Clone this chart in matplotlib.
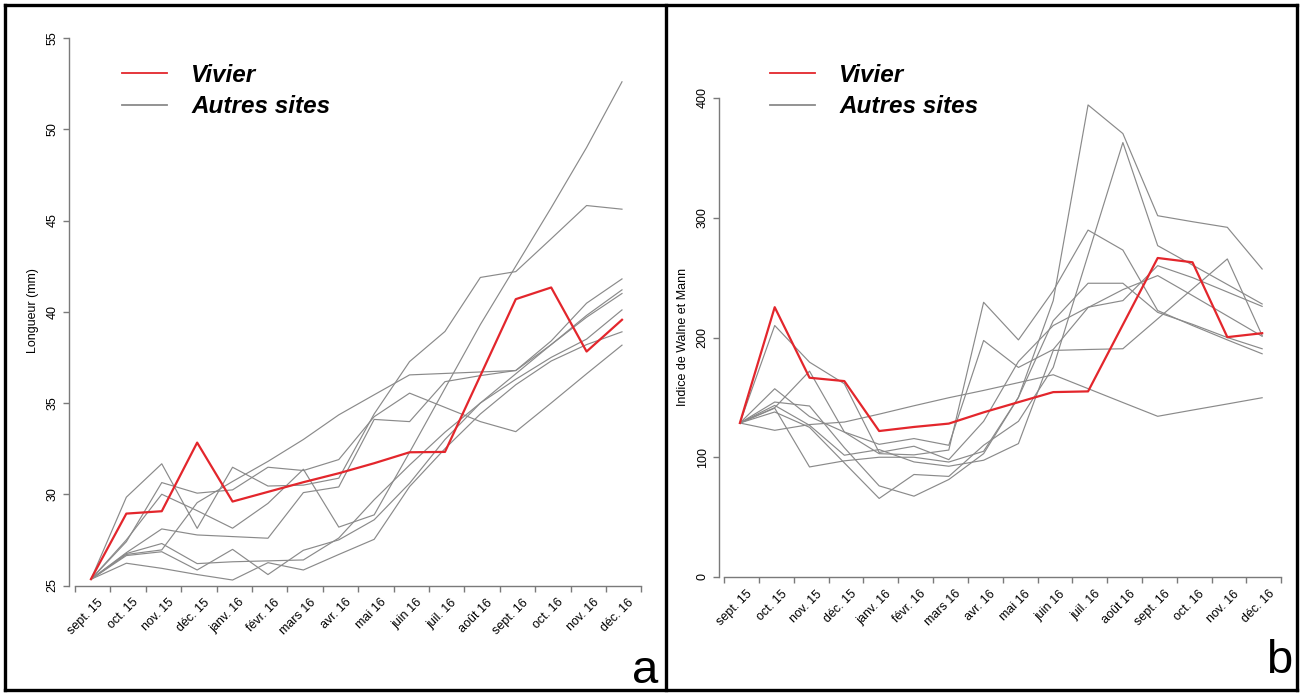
import matplotlib
matplotlib.use("Agg")
import matplotlib.pyplot as plt
from matplotlib.lines import Line2D
from matplotlib.transforms import ScaledTranslation, blended_transform_factory


# ============================================================
# DATA
# ============================================================

mois = [
    "sept. 15", "oct. 15", "nov. 15", "déc. 15", "janv. 16", "févr. 16",
    "mars 16", "avr. 16", "mai 16", "juin 16", "juil. 16", "août 16",
    "sept. 16", "oct. 16", "nov. 16", "déc. 16",
]

# panel a : longueur (mm)
vivier_longueur = [25.35, 28.94, 29.07, 32.83, 29.6, 30.13, 30.66, 31.15,
                   31.7, 32.3, 32.32, 36.5, 40.69, 41.33, 37.82, 39.56]

autres_longueur = [
    [25.34, 29.84, 31.67, 28.13, 31.48, 30.45, 30.5, 30.88, 34.4, 37.27, 38.92, 41.88, 42.2, 44.0, 45.82, 45.62],
    [25.34, 27.4, 30.64, 30.06, 30.24, 31.48, 31.3, 31.9, 34.25, 35.54, 34.76, 33.98, 33.43, 35.0, 36.6, 38.17],
    [25.34, 27.5, 30.0, 29.1, 28.14, 29.5, 31.37, 28.2, 28.87, 32.3, 35.8, 39.3, 42.5, 45.7, 49.0, 52.6],
    [25.34, 26.8, 28.1, 27.77, 27.68, 27.59, 30.09, 30.4, 34.1, 33.98, 36.17, 36.5, 36.78, 38.2, 39.7, 41.0],
    [25.34, 26.7, 26.95, 29.54, 30.7, 31.8, 33.0, 34.35, 35.45, 36.54, 36.62, 36.7, 36.78, 38.4, 40.47, 41.8],
    [25.34, 26.64, 26.85, 25.85, 26.98, 25.6, 26.93, 27.5, 28.6, 30.6, 33.0, 35.0, 36.6, 38.2, 39.8, 41.2],
    [25.34, 26.75, 27.3, 26.2, 26.3, 26.35, 26.4, 27.6, 29.7, 31.6, 33.4, 35.0, 36.3, 37.5, 38.5, 40.1],
    [25.34, 26.22, 25.94, 25.6, 25.3, 26.25, 25.85, 26.7, 27.53, 30.42, 32.5, 34.4, 36.0, 37.3, 38.2, 38.9],
]

# panel b : indice de Walne et Mann
vivier_wm = [128.6, 225.3, 166.4, 163.6, 121.9, 125.3, 128.1, 137.5,
             146.0, 154.4, 155.0, 210.7, 266.4, 262.8, 200.3, 203.6]

autres_wm = [
    [128.6, 146.1, 142.8, 108.0, 76.1, 67.5, 81.4, 103.0, 150.0, 230.8, 394.2, 370.3, 301.7, 296.7, 292.0, 257.2],
    [128.6, 137.8, 125.0, 95.3, 65.6, 85.6, 84.0, 110.0, 130.0, 175.0, 269.0, 362.8, 276.7, 260.5, 244.3, 228.0],
    [128.6, 210.0, 179.4, 161.4, 104.0, 109.2, 98.0, 130.0, 180.0, 210.0, 225.3, 230.8, 260.0, 250.0, 238.0, 226.0],
    [128.6, 141.4, 171.9, 121.1, 110.8, 115.6, 110.0, 197.5, 175.0, 190.0, 225.0, 240.0, 251.7, 235.0, 218.0, 201.0],
    [128.6, 143.3, 126.7, 101.7, 106.4, 96.1, 92.5, 97.5, 111.4, 189.2, 190.0, 190.6, 215.6, 240.6, 265.6, 201.7],
    [128.6, 157.2, 134.0, 121.0, 103.0, 102.0, 106.0, 229.4, 198.0, 239.0, 289.7, 273.0, 222.5, 210.0, 198.0, 186.4],
    [128.6, 141.0, 91.9, 97.0, 100.0, 100.0, 96.0, 105.0, 150.0, 214.0, 245.3, 245.3, 221.0, 211.0, 200.0, 190.6],
    [128.6, 122.5, 127.3, 129.4, 136.0, 143.0, 149.7, 155.8, 162.3, 168.9, 157.3, 145.7, 134.2, 139.4, 144.5, 149.7],
]


# ============================================================
# STYLE
# ============================================================

W, H, DPI = 1301, 693, 100

plt.rcParams["font.family"] = ["Liberation Sans", "DejaVu Sans"]

ROUGE = "#e3262c"
GRIS = "#8a8a8a"
AXE = "#7a7a7a"


def box(x0, y0, x1, y1):
    # pixel box (top-left origin) -> figure fraction
    return [x0 / W, 1 - y1 / H, (x1 - x0) / W, (y1 - y0) / H]


fig = plt.figure(figsize=(W / DPI, H / DPI), dpi=DPI)


def panel(rect, xlim, ylim, yticks, vivier, autres, ylabel, ylab_xy, leg_xy):

    ax = fig.add_axes(rect)
    x = list(range(len(mois)))

    for serie in autres:
        ax.plot(x, serie, color=GRIS, lw=0.85)
    ax.plot(x, vivier, color=ROUGE, lw=1.6)

    ax.set_xlim(*xlim)
    ax.set_ylim(*ylim)

    for s in ["top", "right"]:
        ax.spines[s].set_visible(False)
    for s in ["left", "bottom"]:
        ax.spines[s].set_color(AXE)
        ax.spines[s].set_linewidth(1.0)
    ax.spines["left"].set_bounds(yticks[0], yticks[-1])
    ax.spines["bottom"].set_bounds(-0.45, len(mois) - 0.45)

    ax.set_xticks([k - 0.45 for k in range(len(mois) + 1)])
    ax.set_xticklabels([])
    ax.set_yticks(yticks)
    ax.set_yticklabels([str(v) for v in yticks], rotation=90,
                       va="center", fontsize=9)
    ax.tick_params(axis="both", direction="out", length=4.5,
                   width=1.0, color=AXE, pad=3)

    # month labels, rotated like R's text(srt = 45)
    tr = blended_transform_factory(ax.transData, ax.transAxes)
    off = ScaledTranslation(6 / DPI, -11 / DPI, fig.dpi_scale_trans)
    for i, lab in enumerate(mois):
        ax.text(i, 0, lab, transform=tr + off, rotation=45,
                rotation_mode="anchor", ha="right", va="top", fontsize=9)

    fig.text(ylab_xy[0] / W, 1 - ylab_xy[1] / H, ylabel, rotation=90,
             ha="center", va="center", fontsize=9)

    handles = [Line2D([], [], color=ROUGE, lw=1.3),
               Line2D([], [], color=GRIS, lw=1.3)]
    fig.legend(handles, ["Vivier", "Autres sites"], frameon=False,
               loc="upper left",
               bbox_to_anchor=(leg_xy[0] / W, 1 - leg_xy[1] / H),
               borderaxespad=0, borderpad=0, handlelength=1.85,
               handletextpad=1.0, labelspacing=0.33,
               prop={"family": "Liberation Sans", "weight": "bold",
                     "style": "italic", "size": 17.5})
    return ax


# ============================================================
# PANEL A
# ============================================================

panel(box(69, 38, 645, 585.5), (-0.62, 15.65), (25, 55),
      [25, 30, 35, 40, 45, 50, 55], vivier_longueur, autres_longueur,
      "Longueur (mm)", (33, 311), (122, 64))

# ============================================================
# PANEL B
# ============================================================

panel(box(719, 98, 1290, 577), (-0.60, 15.80), (0, 400),
      [0, 100, 200, 300, 400], vivier_wm, autres_wm,
      "Indice de Walne et Mann", (683, 337), (770, 64))


# ============================================================
# FRAME AND PANEL LETTERS
# ============================================================

cadre = [((5, 5), (1297, 5)), ((5, 690), (1297, 690)),
         ((5, 5), (5, 690)), ((1297, 5), (1297, 690)),
         ((666, 5), (666, 690))]
for (xa, ya), (xb, yb) in cadre:
    fig.add_artist(Line2D([xa / W, xb / W], [1 - ya / H, 1 - yb / H],
                          transform=fig.transFigure, color="black", lw=2.4))

fig.text(658 / W, 1 - 683 / H, "a", fontsize=34, ha="right", va="baseline")
fig.text(1292 / W, 1 - 673 / H, "b", fontsize=34, ha="right", va="baseline")

fig.savefig("out.png", dpi=DPI)
